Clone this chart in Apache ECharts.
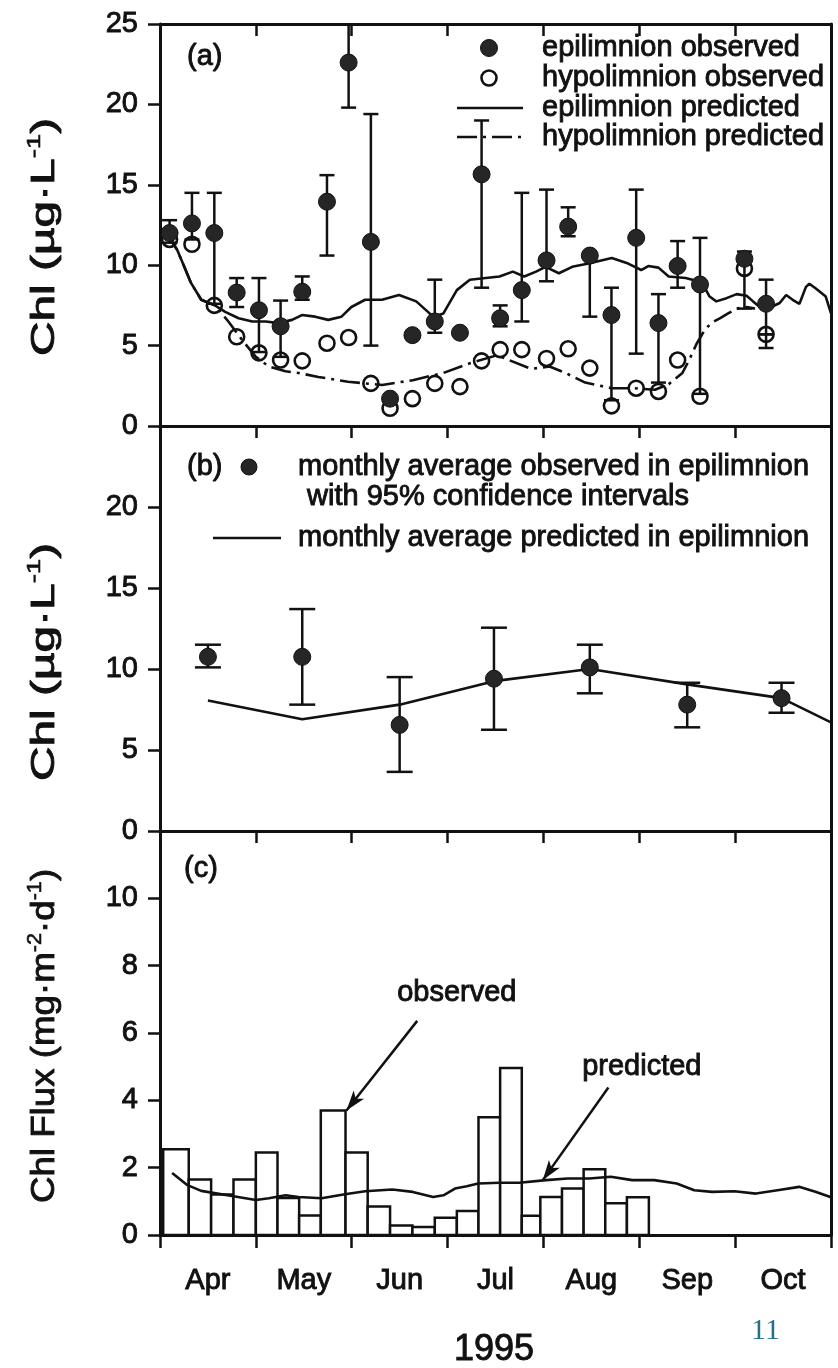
<!DOCTYPE html>
<html>
<head>
<meta charset="utf-8">
<script src="https://cdn.jsdelivr.net/npm/echarts@6/dist/echarts.min.js"></script>
<style>
  html, body { margin: 0; padding: 0; background: #fff; }
  #chart { width: 838px; height: 1368px; }
</style>
</head>
<body>
<div id="chart"></div>
<script>
// ---- Season calendar (1 April - 1 November 1995) ----
const MONTHS = ['Apr', 'May', 'Jun', 'Jul', 'Aug', 'Sep', 'Oct'];
const MONTH_START_DAY = [0, 30, 61, 91, 122, 153, 183, 214]; // days after 1 April

// ---- (a) weekly samples, epilimnion / hypolimnion ----
const sampleDates = ['04-04','04-11','04-18','04-25','05-02','05-09','05-16','05-24','05-31','06-07',
  '06-13','06-20','06-27','07-05','07-12','07-18','07-25','08-02','08-09','08-16',
  '08-23','08-31','09-07','09-13','09-20','10-04','10-11'];
const epiObserved = [12.0, 12.6, 12.0, 8.3, 7.2, 6.2, 8.35, 13.95, 22.6, 11.45,
  1.7, 5.65, 6.5, 5.8, 15.65, 6.7, 8.45, 10.3, 12.4, 10.6,
  6.9, 11.7, 6.4, 9.95, 8.8, 10.4, 7.6];
const epiLow = [11.4, 11.6, 7.6, 7.4, 4.6, 4.3, 7.85, 10.6, 19.8, 5.0,
  null, null, 5.8, null, 8.6, 6.2, 6.5, 9.0, 11.8, 6.8,
  1.6, 4.5, 2.7, 8.6, 2.0, 7.3, 5.7];
const epiHigh = [12.8, 14.5, 14.5, 9.2, 9.2, 7.8, 9.3, 15.6, 25.6, 19.4,
  null, null, 9.1, null, 19.0, 7.5, 14.5, 14.7, 13.6, 10.6,
  8.6, 14.7, 8.2, 11.5, 11.7, 10.85, 9.1];
const hypoObserved = [11.6, 11.3, 7.5, 5.55, 4.55, 4.1, 4.05, 5.15, 5.5, 2.65,
  1.1, 1.7, 2.65, 2.45, 4.05, 4.75, 4.75, 4.2, 4.8, 3.6,
  1.25, 2.35, 2.15, 4.1, 1.85, 9.8, 5.7];
const hypoBarDates = ['10-11'];
const hypoBarLow = [4.85];
const hypoBarHigh = [5.7];

// model output (day after 1 April, chlorophyll)
const epiPredDay = [2, 3.3, 5.4, 7.6, 9.7, 12.9, 17.2, 20.4, 24.6, 28.9, 33.2, 37.4, 41.7, 44.9, 49.2,
  53.4, 57.7, 60.9, 65.2, 70.5, 75.8, 81.2, 86.5, 89.7, 94, 98.2, 107.8, 112.1, 115.8, 119.6,
  122.7, 127, 131.3, 136.6, 144.1, 149.4, 153.6, 155.8, 159, 162.2, 167.5, 169.6, 172.8, 175, 177.1,
  180.3, 183.5, 186.7, 188.8, 191, 195.2, 197.4, 199.5, 201.6, 203.8, 205.9, 207, 209.1, 212.3, 214];
const epiPredicted = [12.0, 11.6, 10.95, 9.9, 8.9, 7.85, 7.5, 7.1, 6.7, 6.5, 6.5, 6.4, 6.6, 6.9, 6.8,
  6.6, 6.8, 7.4, 7.85, 7.85, 8.15, 7.75, 6.8, 7.0, 8.45, 9.1, 9.3, 9.6, 9.3, 9.6,
  9.9, 9.5, 9.9, 10.1, 10.45, 10.1, 9.7, 9.95, 9.85, 9.3, 9.2, 9.1, 8.85, 8.05, 7.75,
  7.95, 8.2, 8.1, 7.75, 7.4, 7.45, 7.65, 8.15, 7.85, 7.6, 8.65, 8.85, 8.55, 8.05, 7.0];
const hypoPredDay = [2, 3.3, 5.4, 7.6, 9.7, 12.9, 17.2, 21.4, 25.7, 30, 34.2, 39.6, 43.8, 50.2, 59.8,
  65.2, 70.5, 80.1, 89.7, 98.2, 107, 118, 124, 129.1, 135.5, 144.1, 151.5, 157.9, 162.2, 166.5,
  168.6, 170.9, 173.4, 175.5, 178.2, 180.8, 183.5, 186.7, 189.4];
const hypoPredicted = [12.0, 11.6, 10.95, 9.9, 8.9, 7.85, 7.5, 6.5, 5.35, 4.3, 3.7, 3.4, 3.3, 3.05, 2.75,
  2.65, 2.55, 2.85, 3.3, 3.9, 4.4, 3.55, 3.7, 3.3, 2.7, 2.35, 2.35, 2.25, 2.6, 3.3,
  4.1, 5.1, 5.95, 6.4, 6.7, 7.0, 7.3, 7.4, 7.3];

// ---- (b) monthly averages in the epilimnion ----
const monthlyDates = ['04-16','05-16','06-16','07-16','08-16','09-16','10-16'];
const monthlyObserved = [10.75, 10.75, 6.55, 9.4, 10.1, 7.8, 8.2];
const monthlyLow = [10.1, 7.8, 3.65, 6.25, 8.5, 6.4, 7.3];
const monthlyHigh = [11.5, 13.7, 9.5, 12.55, 11.5, 9.15, 9.15];
const monthlyPredDates = ['04-16','05-16','06-16','07-16','08-16','09-16','10-16','11-16'];
const monthlyPredicted = [8.05, 6.9, 7.8, 9.25, 10.0, 9.05, 8.2, 5.3];

// ---- (c) sedimentation flux ----
const trapDates = ['04-02','04-10','04-17','04-24','05-01','05-08','05-15','05-22','05-30','06-06',
  '06-13','06-20','06-27','07-04','07-11','07-18','07-25','07-31','08-07','08-14',
  '08-21','08-28','09-04'];
const fluxObserved = [2.55, 1.65, 1.2, 1.65, 2.45, 1.1, 0.58, 3.7, 2.45, 0.85,
  0.28, 0.24, 0.51, 0.71, 3.5, 4.96, 0.57, 1.13, 1.38, 1.95, 0.94, 1.12];
const fluxPredDay = [3.8, 8.6, 12.9, 23, 30, 34.2, 39.6, 43.8, 51.3, 58.8, 65.2, 73.7, 80.1, 86.5, 89.7,
  93.4, 97.2, 100.9, 107.8, 114.2, 122.9, 129.8, 136.8, 143.8, 150.7, 157.7, 164.7, 170.2, 175.8,
  182.8, 189.7, 196.7, 203.7, 209.2, 214];
const fluxPredicted = [1.84, 1.48, 1.31, 1.15, 1.04, 1.09, 1.18, 1.13, 1.09, 1.21, 1.30, 1.35, 1.28, 1.13, 1.18,
  1.38, 1.45, 1.53, 1.55, 1.55, 1.63, 1.68, 1.68, 1.73, 1.63, 1.63, 1.53, 1.33, 1.28,
  1.30, 1.23, 1.33, 1.43, 1.28, 1.12];

// ---- axis ranges ----
const chlAxis = { max: 25, step: 5 };
const fluxAxis = { max: 12, step: 2 };

// ---- helpers: calendar -> axis units (one unit per month) ----
function dayToAxis(d) {
  for (let m = 0; m < 7; m++) {
    if (d < MONTH_START_DAY[m + 1] || m === 6) {
      return m + (d - MONTH_START_DAY[m]) / (MONTH_START_DAY[m + 1] - MONTH_START_DAY[m]);
    }
  }
}
function dateToDay(s) {
  const [mm, dd] = s.split('-').map(Number);
  const idx = mm - 4;
  const start = idx < MONTH_START_DAY.length ? MONTH_START_DAY[idx] : 214 + 30 * (idx - 7);
  return start + dd - 1;
}
const dateToAxis = s => dayToAxis(dateToDay(s));

const ink = '#111';
const FONT = '"Liberation Sans", Arial, Helvetica, sans-serif';
const HEAVY = 0.9; // extra outline that thickens the printed lettering

function errorBars(capHalf) {
  return function (params, api) {
    const x = api.value(0), lo = api.value(1), hi = api.value(2);
    const pLo = api.coord([x, lo]);
    const pHi = api.coord([x, hi]);
    const style = { stroke: ink, lineWidth: 2.5, fill: null };
    return {
      type: 'group',
      children: [
        { type: 'line', shape: { x1: pLo[0], y1: pLo[1], x2: pHi[0], y2: pHi[1] }, style },
        { type: 'line', shape: { x1: pHi[0] - capHalf, y1: pHi[1], x2: pHi[0] + capHalf, y2: pHi[1] }, style },
        { type: 'line', shape: { x1: pLo[0] - capHalf, y1: pLo[1], x2: pLo[0] + capHalf, y2: pLo[1] }, style }
      ]
    };
  };
}

// ---- axes ----
const labelFont = { fontSize: 29, color: ink, fontFamily: FONT, textBorderColor: ink, textBorderWidth: HEAVY };
function xFrame(grid, pos, showTicks, inside) {
  return {
    type: 'value', gridIndex: grid, min: 0, max: 7, interval: 1, position: pos,
    axisLine: { show: true, onZero: false, lineStyle: { color: ink, width: 3 } },
    axisTick: { show: showTicks, inside: inside, length: inside ? 12 : 13, lineStyle: { color: ink, width: 2.5 } },
    axisLabel: { show: false }, splitLine: { show: false }
  };
}
function yLeft(grid, ax, showMax) {
  return {
    type: 'value', gridIndex: grid, min: 0, max: ax.max, interval: ax.step, position: 'left',
    axisLine: { show: true, onZero: false, lineStyle: { color: ink, width: 3 } },
    axisTick: { show: true, inside: false, length: 12, lineStyle: { color: ink, width: 2.5 } },
    axisLabel: Object.assign({ show: true, margin: 22, showMaxLabel: showMax, showMinLabel: true }, labelFont),
    splitLine: { show: false }
  };
}
function yRight(grid, ax) {
  return {
    type: 'value', gridIndex: grid, min: 0, max: ax.max, interval: ax.step, position: 'right',
    axisLine: { show: true, onZero: false, lineStyle: { color: ink, width: 3 } },
    axisTick: { show: false }, axisLabel: { show: false }, splitLine: { show: false }
  };
}

const xAxes = [
  xFrame(0, 'bottom', false, false), xFrame(0, 'top', true, true),
  xFrame(1, 'bottom', false, false), xFrame(1, 'top', true, true),
  xFrame(2, 'bottom', true, false), xFrame(2, 'top', true, true),
  {
    type: 'category', gridIndex: 2, position: 'bottom', data: MONTHS, boundaryGap: true,
    axisLine: { show: false }, axisTick: { show: false },
    axisLabel: Object.assign({ show: true, margin: 31 }, labelFont)
  }
];
const yAxes = [
  yLeft(0, chlAxis, true), yRight(0, chlAxis),
  yLeft(1, chlAxis, false), yRight(1, chlAxis),
  yLeft(2, fluxAxis, false), yRight(2, fluxAxis)
];

// ---- series data ----
const epiPredData = epiPredDay.map((d, i) => [dayToAxis(d), epiPredicted[i]]);
const hypoPredData = hypoPredDay.map((d, i) => [dayToAxis(d), hypoPredicted[i]]);
const epiObsData = sampleDates.map((s, i) => [dateToAxis(s), epiObserved[i]]);
const hypoObsData = sampleDates.map((s, i) => [dateToAxis(s), hypoObserved[i]]);
const epiBarData = sampleDates
  .map((s, i) => (epiLow[i] == null ? null : [dateToAxis(s), epiLow[i], epiHigh[i]]))
  .filter(Boolean);
const hypoBarData = hypoBarDates.map((s, i) => [dateToAxis(s), hypoBarLow[i], hypoBarHigh[i]]);

const monthlyObsData = monthlyDates.map((s, i) => [dateToAxis(s), monthlyObserved[i]]);
const monthlyBarData = monthlyDates.map((s, i) => [dateToAxis(s), monthlyLow[i], monthlyHigh[i]]);
const monthlyPredData = monthlyPredDates.map((s, i) => [dateToAxis(s), monthlyPredicted[i]]);

const fluxBarData = fluxObserved.map((v, i) => [dateToAxis(trapDates[i]), dateToAxis(trapDates[i + 1]), v]);
const fluxPredData = fluxPredDay.map((d, i) => [dayToAxis(d), fluxPredicted[i]]);

const lineStyle = { color: ink, width: 2.6 };
const dashDot = [20, 6, 3, 6];

const series = [
  // (a)
  { type: 'line', name: 'epilimnion predicted', xAxisIndex: 0, yAxisIndex: 0, data: epiPredData,
    symbol: 'none', lineStyle: lineStyle, z: 2 },
  { type: 'line', name: 'hypolimnion predicted', xAxisIndex: 0, yAxisIndex: 0, data: hypoPredData,
    symbol: 'none', lineStyle: { color: ink, width: 2.6, type: dashDot }, z: 2 },
  { type: 'custom', name: 'epilimnion CI', xAxisIndex: 0, yAxisIndex: 0, data: epiBarData,
    encode: { x: 0, y: [1, 2] }, renderItem: errorBars(7.5), clip: true, z: 3 },
  { type: 'custom', name: 'hypolimnion CI', xAxisIndex: 0, yAxisIndex: 0, data: hypoBarData,
    encode: { x: 0, y: [1, 2] }, renderItem: errorBars(7.5), clip: true, z: 3 },
  { type: 'scatter', name: 'hypolimnion observed', xAxisIndex: 0, yAxisIndex: 0, data: hypoObsData,
    symbol: 'circle', symbolSize: 15,
    itemStyle: { color: 'rgba(255,255,255,0)', borderColor: ink, borderWidth: 2.6, opacity: 1 }, z: 4 },
  { type: 'scatter', name: 'epilimnion observed', xAxisIndex: 0, yAxisIndex: 0, data: epiObsData,
    symbol: 'circle', symbolSize: 17,
    itemStyle: { color: '#262626', borderColor: ink, borderWidth: 1, opacity: 1 }, z: 5 },

  // (b)
  { type: 'line', name: 'monthly average predicted', xAxisIndex: 2, yAxisIndex: 2, data: monthlyPredData,
    symbol: 'none', lineStyle: lineStyle, clip: true, z: 2 },
  { type: 'custom', name: 'monthly CI', xAxisIndex: 2, yAxisIndex: 2, data: monthlyBarData,
    encode: { x: 0, y: [1, 2] }, renderItem: errorBars(13), z: 3 },
  { type: 'scatter', name: 'monthly average observed', xAxisIndex: 2, yAxisIndex: 2, data: monthlyObsData,
    symbol: 'circle', symbolSize: 17,
    itemStyle: { color: '#262626', borderColor: ink, borderWidth: 1, opacity: 1 }, z: 5 },

  // (c)
  { type: 'custom', name: 'flux observed', xAxisIndex: 4, yAxisIndex: 4, data: fluxBarData,
    encode: { x: [0, 1], y: 2 },
    renderItem: function (params, api) {
      const p0 = api.coord([api.value(0), api.value(2)]);
      const p1 = api.coord([api.value(1), 0]);
      return { type: 'rect', shape: { x: p0[0], y: p0[1], width: p1[0] - p0[0], height: p1[1] - p0[1] },
        style: { fill: '#fff', stroke: ink, lineWidth: 2.5 } };
    }, z: 2 },
  { type: 'line', name: 'flux predicted', xAxisIndex: 4, yAxisIndex: 4, data: fluxPredData,
    symbol: 'none', lineStyle: lineStyle, z: 3,
    markLine: {
      silent: true, symbol: ['none', 'arrow'], symbolSize: [10, 20], precision: 4,
      lineStyle: { color: ink, width: 2.5, type: 'solid' }, label: { show: false },
      data: [
        [{ coord: [dayToAxis(81.5), 6.36] }, { coord: [dayToAxis(59.3), 3.7] }],
        [{ coord: [dayToAxis(143), 4.38] }, { coord: [dayToAxis(121.8), 1.63] }]
      ]
    },
    markPoint: {
      silent: true, symbol: 'circle', symbolSize: 1, itemStyle: { color: 'rgba(0,0,0,0)' },
      label: { show: true, position: 'inside', color: ink, fontSize: 29, fontFamily: FONT,
        textBorderColor: ink, textBorderWidth: HEAVY, formatter: p => p.name },
      data: [
        { name: 'observed', coord: [dayToAxis(94), 7.2] },
        { name: 'predicted', coord: [dayToAxis(153.8), 5.0] }
      ]
    }
  }
];

// ---- text furniture ----
function txt(x, y, text, size, align, family, color) {
  return {
    type: 'text', x: x, y: y, silent: true,
    style: { text: text, font: size + 'px ' + (family || FONT), fill: color || ink,
      stroke: color ? null : ink, lineWidth: color ? 0 : HEAVY,
      align: align || 'left', verticalAlign: 'middle',
      textAlign: align || 'left', textVerticalAlign: 'middle' }
  };
}
function yTitle(x, y, richText, size, stretch) {
  return {
    type: 'text', x: x, y: y, rotation: Math.PI / 2, scaleX: stretch, scaleY: 1, silent: true,
    style: {
      text: richText, align: 'center', verticalAlign: 'middle',
      textAlign: 'center', textVerticalAlign: 'middle',
      rich: {
        m: { fontSize: size, fontFamily: FONT, fill: ink, stroke: ink, lineWidth: HEAVY, lineHeight: 40 },
        s: { fontSize: Math.round(size * 0.58), fontFamily: FONT, fill: ink, stroke: ink, lineWidth: 0.6,
          verticalAlign: 'top', lineHeight: 22 }
      }
    }
  };
}

const graphic = [
  // panel (a) key
  txt(187, 57, '(a)', 29),
  { type: 'circle', silent: true, shape: { cx: 489, cy: 48, r: 8.5 }, style: { fill: '#262626', stroke: ink, lineWidth: 1 } },
  { type: 'circle', silent: true, shape: { cx: 489, cy: 78, r: 7.5 }, style: { fill: 'none', stroke: ink, lineWidth: 2.6 } },
  { type: 'line', silent: true, shape: { x1: 457, y1: 108, x2: 523, y2: 108 }, style: { stroke: ink, lineWidth: 2.6 } },
  { type: 'line', silent: true, shape: { x1: 457, y1: 137, x2: 523, y2: 137 }, style: { stroke: ink, lineWidth: 2.6, lineDash: dashDot } },
  txt(542, 48, 'epilimnion observed', 29),
  txt(542, 78, 'hypolimnion observed', 29),
  txt(542, 108, 'epilimnion predicted', 29),
  txt(542, 137, 'hypolimnion predicted', 29),

  // panel (b) key
  txt(187, 467, '(b)', 29),
  { type: 'circle', silent: true, shape: { cx: 249, cy: 467, r: 8 }, style: { fill: '#262626', stroke: ink, lineWidth: 1 } },
  txt(298, 467, 'monthly average observed in epilimnion', 29),
  txt(307, 497, 'with 95% confidence intervals', 29),
  { type: 'line', silent: true, shape: { x1: 213, y1: 538, x2: 281, y2: 538 }, style: { stroke: ink, lineWidth: 2.6 } },
  txt(298, 538, 'monthly average predicted in epilimnion', 29),

  // panel (c) tag
  txt(184, 869, '(c)', 29),

  // axis titles
  yTitle(45, 237, '{m|Chl (µg·L}{s|-1}{m|)}', 33, 1.45),
  yTitle(45, 662, '{m|Chl (µg·L}{s|-1}{m|)}', 33, 1.45),
  yTitle(45, 1036, '{m|Chl Flux (mg·m}{s|-2}{m|·d}{s|-1}{m|)}', 34, 1.08),

  // year and page number
  txt(494, 1350, '1995', 36, 'center'),
  txt(751, 1331, '11', 30, 'left', '"Liberation Serif", "Times New Roman", serif', '#22708a')
];

const chart = echarts.init(document.getElementById('chart'), null, { renderer: 'canvas' });
chart.setOption({
  backgroundColor: '#fff',
  animation: false,
  textStyle: { fontFamily: FONT, color: ink },
  grid: [
    { left: 160, width: 671, top: 24, height: 402 },
    { left: 160, width: 671, top: 426, height: 405 },
    { left: 160, width: 671, top: 831, height: 404 }
  ],
  xAxis: xAxes,
  yAxis: yAxes,
  series: series,
  graphic: graphic
});
</script>
</body>
</html>
